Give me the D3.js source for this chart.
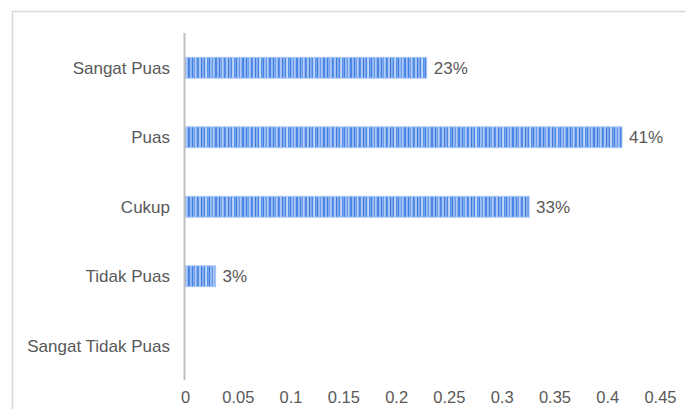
<!DOCTYPE html>
<html>
<head>
<meta charset="utf-8">
<script src="https://cdn.jsdelivr.net/npm/d3@7"></script>
<style>
  html, body { margin: 0; padding: 0; background: #fff; }
  svg { display: block; }
  text { font-family: "Liberation Sans", Arial, sans-serif; fill: #595959; }
</style>
</head>
<body>
<svg id="chart" width="686" height="409"></svg>
<script>
const categories = ["Sangat Puas", "Puas", "Cukup", "Tidak Puas", "Sangat Tidak Puas"];
const values = [0.229, 0.414, 0.326, 0.029, 0];
const valueLabels = ["23%", "41%", "33%", "3%", ""];
const tickValues = [0, 0.05, 0.1, 0.15, 0.2, 0.25, 0.3, 0.35, 0.4, 0.45];

const svg = d3.select("#chart");

// outer chart border
svg.append("rect")
  .attr("x", 12.5).attr("y", 11.5)
  .attr("width", 700).attr("height", 420)
  .attr("fill", "none").attr("stroke", "#d9d9d9").attr("stroke-width", 1.5);

// stripe pattern
const stripeColors = ["#4a86e8","#8fb4f2","#3f7fe6","#6d9eeb","#b4cdf6","#4a86e8","#5b92ea","#a4c2f4","#3c78d8","#7aa7ee","#4a86e8","#c2d6f8","#5590ea","#3f7fe6","#98baf3","#6196eb","#b0caf6","#4a86e8"];
const defs = svg.append("defs");
const pat = defs.append("pattern")
  .attr("id", "stripes").attr("patternUnits", "userSpaceOnUse")
  .attr("x", 0).attr("y", 0)
  .attr("width", stripeColors.length * 1.5).attr("height", 10);
stripeColors.forEach((c, i) => {
  pat.append("rect").attr("x", i * 1.5).attr("y", 0).attr("width", 1.5).attr("height", 10).attr("fill", c);
});

const x = d3.scaleLinear().domain([0, 0.45]).range([185, 660]);
const y = d3.scaleBand().domain(categories).range([33, 380.5]).paddingInner(0.7).paddingOuter(0.35);

const rows = categories.map((c, i) => ({ c, v: values[i], l: valueLabels[i] }));

// bars
svg.append("g").selectAll("rect")
  .data(rows)
  .join("rect")
  .attr("x", x(0))
  .attr("y", d => y(d.c))
  .attr("width", d => x(d.v) - x(0))
  .attr("height", y.bandwidth())
  .attr("fill", "url(#stripes)")
  .attr("stroke", d => d.v > 0 ? "#a9c6f5" : "none")
  .attr("stroke-width", 1);

// value labels
svg.append("g").selectAll("text")
  .data(rows)
  .join("text")
  .attr("x", d => x(d.v) + 7)
  .attr("y", d => y(d.c) + y.bandwidth() / 2 + 6)
  .attr("font-size", 17)
  .text(d => d.l);

// y axis (category labels)
const yAxis = d3.axisLeft(y).tickSize(0).tickPadding(15);
const gy = svg.append("g").attr("transform", `translate(${x(0)},0)`).call(yAxis);
gy.select(".domain").remove();
gy.selectAll("text").attr("font-size", 17).attr("font-family", '"Liberation Sans", Arial, sans-serif').attr("fill", "#595959").attr("dy", "0.36em");

// axis line
svg.append("line")
  .attr("x1", x(0) - 0.5).attr("x2", x(0) - 0.5)
  .attr("y1", 33).attr("y2", 380)
  .attr("stroke", "#bfbfbf").attr("stroke-width", 2);

// x axis tick labels
const xAxis = d3.axisBottom(x).tickValues(tickValues).tickSize(0).tickPadding(0).tickFormat(d3.format("~g"));
const gx = svg.append("g").attr("transform", "translate(0,391)").call(xAxis);
gx.select(".domain").remove();
gx.selectAll("text").attr("font-size", 16.5).attr("font-family", '"Liberation Sans", Arial, sans-serif').attr("fill", "#595959");
</script>
</body>
</html>
